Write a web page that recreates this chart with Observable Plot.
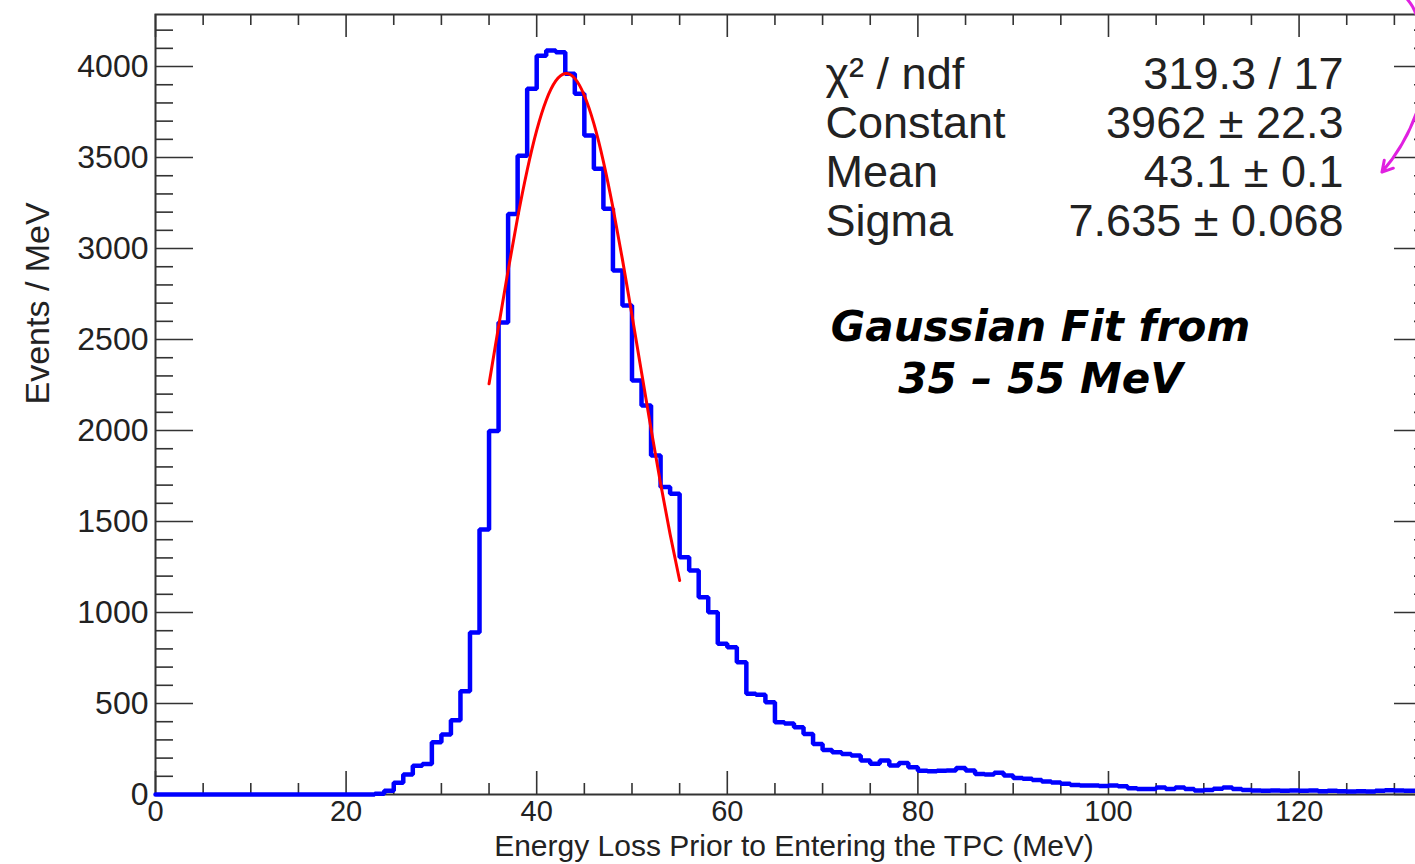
<!DOCTYPE html>
<html><head><meta charset="utf-8">
<script src="https://cdn.jsdelivr.net/npm/d3@7"></script>
<script src="https://cdn.jsdelivr.net/npm/@observablehq/plot@0.6"></script>
<style>
html,body{margin:0;padding:0;background:#fff;overflow:hidden;}
#chart svg{display:block;}
</style></head><body><div id="chart"></div>
<script>
// ---- data ----
const binWidth = 1;          // MeV per bin
const binStart = 0;          // low edge of first bin (MeV)
const counts = [
  0,0,0,0,0,0,0,0,0,0, 0,0,0,0,0,0,0,0,0,0, 0,0,0,4,20,65,110,158,168,287,
  330,408,568,890,1456,1997,2593,3190,3510,3878, 4060,4088,4078,3960,3850,3621,3438,3218,2879,2687,
  2275,2137,1863,1689,1652,1304,1231,1084,1002,828, 809,727,553,548,507,397,390,370,333,278,
  245,232,223,214,187,169,187,160,173,150, 130,128,130,132,146,132,112,110,120,104,
  90,86,80,71,66,59,52,49,49,47, 49,45,35,30,30,38,30,38,30,22,
  25,32,38,30,25,22,20,22,20,22, 20,22,18,20,18,16,18,16,20,24,
  22,20,20,18
];
const fitX = [35,36,37,38,39,40,41,42,43,44,45,46,47,48,49,50,51,52,53,54,55];
const fitY = [2257,2571,2879,3170,3430,3649,3815,3921,3962,3935,3841,3686,3478,3225,2939,2634,2320,2008,1709,1430,1176];

const xMajorTicks = [0,20,40,60,80,100,120];
const xMinorTicks = [5,10,15,25,30,35,45,50,55,65,70,75,85,90,95,105,110,115,125,130];
const yMajorTicks = [0,500,1000,1500,2000,2500,3000,3500,4000];
const yMinorTicks = d3.range(100, 4300, 100).filter(v => v % 500 !== 0);

const statNames  = ["χ² / ndf", "Constant", "Mean", "Sigma"];
const statValues = ["319.3 / 17", "3962 ± 22.3", "43.1 ± 0.1", "7.635 ± 0.068"];
const noteLines  = ["Gaussian Fit from", "35 – 55 MeV"];
const xTitle = "Energy Loss Prior to Entering the TPC (MeV)";
const yTitle = "Events / MeV";
const arrowPts = [{x1: 132.6, y1: 3790, x2: 128.7, y2: 3420}];
const arcPts = [{x: 131.2, y: 4380}, {x: 131.9, y: 4330}, {x: 132.4, y: 4270}];

// ---- tables ----
const hist = counts.map((c, i) => ({x: binStart + i * binWidth, y: c}));
hist.push({x: binStart + counts.length * binWidth, y: counts[counts.length - 1]});
const fit = fitX.map((x, i) => ({x, y: fitY[i]}));

// the frame runs past the right edge of the picture (the reference is cropped there)
const W = 1415, H = 864, mL = 155, mR = -17, mT = 14, mB = 70;
const fw = W - mL - mR, fh = H - mT - mB;
const axisColor = "#333";
const font = "'Liberation Sans', Arial, Helvetica, sans-serif";

const chart = Plot.plot({
  width: W, height: H,
  marginLeft: mL, marginRight: mR, marginTop: mT, marginBottom: mB,
  style: {fontFamily: font, fontSize: "32px", color: "#222", background: "#fff", overflow: "hidden"},
  x: {domain: [0, 134], axis: null},
  y: {domain: [0, 4286], axis: null},
  marks: [
    // ticks (pointing inward, ROOT style)
    Plot.tickX(xMajorTicks, {x: d => d, insetTop: fh - 23, stroke: axisColor, strokeWidth: 1.6}),
    Plot.tickX(xMinorTicks, {x: d => d, insetTop: fh - 11, stroke: axisColor, strokeWidth: 1.6}),
    Plot.tickX(xMajorTicks, {x: d => d, insetBottom: fh - 23, stroke: axisColor, strokeWidth: 1.6}),
    Plot.tickX(xMinorTicks, {x: d => d, insetBottom: fh - 11, stroke: axisColor, strokeWidth: 1.6}),
    Plot.tickY(yMajorTicks, {y: d => d, insetRight: fw - 38, stroke: axisColor, strokeWidth: 1.6}),
    Plot.tickY(yMinorTicks, {y: d => d, insetRight: fw - 18, stroke: axisColor, strokeWidth: 1.6}),
    Plot.tickY(yMajorTicks, {y: d => d, insetLeft: fw - 38, stroke: axisColor, strokeWidth: 1.6}),
    Plot.tickY(yMinorTicks, {y: d => d, insetLeft: fw - 18, stroke: axisColor, strokeWidth: 1.6}),
    Plot.frame({stroke: axisColor, strokeWidth: 2}),
    // tick labels
    Plot.axisX(xMajorTicks, {tickSize: 0, tickPadding: 6, tickFormat: "d", fontSize: 29, label: null, color: "#222"}),
    Plot.axisY(yMajorTicks, {tickSize: 0, tickPadding: 7, tickFormat: "d", fontSize: 32, label: null, color: "#222"}),
    // axis titles
    Plot.text([xTitle], {frameAnchor: "bottom", dy: 52, lineAnchor: "middle", fontSize: 30, fill: "#222"}),
    Plot.text([yTitle], {frameAnchor: "left", dx: -117, rotate: -90, fontSize: 34, fill: "#222"}),
    // histogram
    Plot.line(hist, {x: "x", y: "y", curve: "step-after", stroke: "#0000ff", strokeWidth: 4.5, strokeLinejoin: "miter"}),
    // gaussian fit
    Plot.line(fit, {x: "x", y: "y", curve: "natural", stroke: "#ff0000", strokeWidth: 3}),
    // stats
    Plot.text([statNames.join("\n")], {frameAnchor: "top-left", dx: 825 - mL, dy: 146.5 - mT, lineAnchor: "middle", textAnchor: "start", lineHeight: 1.09, fontSize: 45, fill: "#222"}),
    Plot.text([statValues.join("\n")], {frameAnchor: "top-left", dx: 1343 - mL, dy: 146.5 - mT, lineAnchor: "middle", textAnchor: "end", lineHeight: 1.09, fontSize: 45, fill: "#222"}),
    // annotation
    Plot.text([noteLines.join("\n")], {frameAnchor: "top-left", dx: 1040 - mL, dy: 350 - mT, lineAnchor: "middle", textAnchor: "middle", lineHeight: 1.24, fontSize: 42, fontWeight: "bold", fontStyle: "italic", fontFamily: "'DejaVu Sans', sans-serif", fill: "#000"}),
    // magenta arrow (partially visible annotation)
    Plot.arrow(arrowPts, {x1: "x1", y1: "y1", x2: "x2", y2: "y2", bend: 12, stroke: "#e020e0", strokeWidth: 3, headLength: 6}),
    Plot.line(arcPts, {x: "x", y: "y", curve: "natural", stroke: "#e020e0", strokeWidth: 3})
  ]
});
document.getElementById("chart").appendChild(chart);
</script>
</body></html>
